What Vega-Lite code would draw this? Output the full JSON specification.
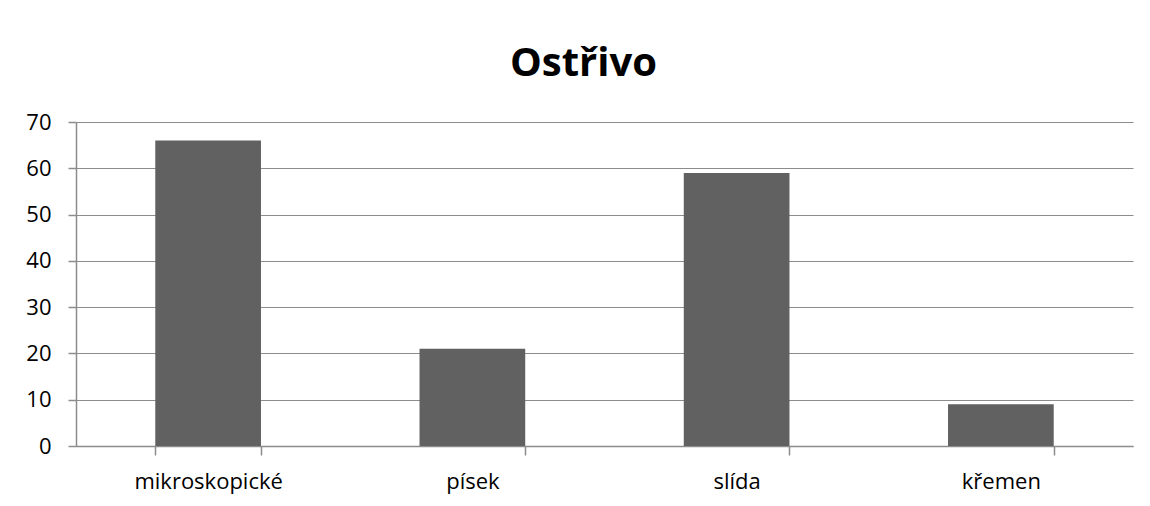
{
  "$schema": "https://vega.github.io/schema/vega-lite/v6.json",
  "width": 1057,
  "height": 324,
  "autosize": "none",
  "padding": {"left": 76, "top": 122, "right": 17, "bottom": 60},
  "background": "white",
  "title": {
    "text": "Ostřivo",
    "font": "Open Sans",
    "fontSize": 40,
    "fontWeight": "bold",
    "color": "#000000",
    "anchor": "middle",
    "offset": 27,
    "dx": -21
  },
  "data": {
    "values": [
      {"kategorie": "mikroskopické", "pocet": 66},
      {"kategorie": "písek", "pocet": 21},
      {"kategorie": "slída", "pocet": 59},
      {"kategorie": "křemen", "pocet": 9}
    ]
  },
  "mark": {"type": "bar", "color": "#616161"},
  "encoding": {
    "x": {
      "field": "kategorie",
      "type": "nominal",
      "sort": null,
      "scale": {"paddingInner": 0.6, "paddingOuter": 0.3},
      "axis": {
        "title": null,
        "labelAngle": 0,
        "tickBand": "extent",
        "tickSize": 9,
        "tickColor": "#8c8c8c",
        "tickWidth": 1.5,
        "domain": true,
        "domainColor": "#8c8c8c",
        "domainWidth": 1.5,
        "labelFont": "Open Sans",
        "labelFontSize": 22,
        "labelColor": "#000000",
        "labelPadding": 16,
        "grid": false
      }
    },
    "y": {
      "field": "pocet",
      "type": "quantitative",
      "scale": {"domain": [0, 70], "nice": false},
      "axis": {
        "title": null,
        "values": [0, 10, 20, 30, 40, 50, 60, 70],
        "tickSize": 8,
        "tickColor": "#8c8c8c",
        "tickWidth": 1.5,
        "domain": true,
        "domainColor": "#8c8c8c",
        "domainWidth": 1.5,
        "gridColor": "#8c8c8c",
        "gridWidth": 1.2,
        "gridOpacity": 1,
        "labelFont": "Open Sans",
        "labelFontSize": 22,
        "labelColor": "#000000",
        "labelPadding": 17
      }
    }
  },
  "config": {"view": {"stroke": null}}
}
